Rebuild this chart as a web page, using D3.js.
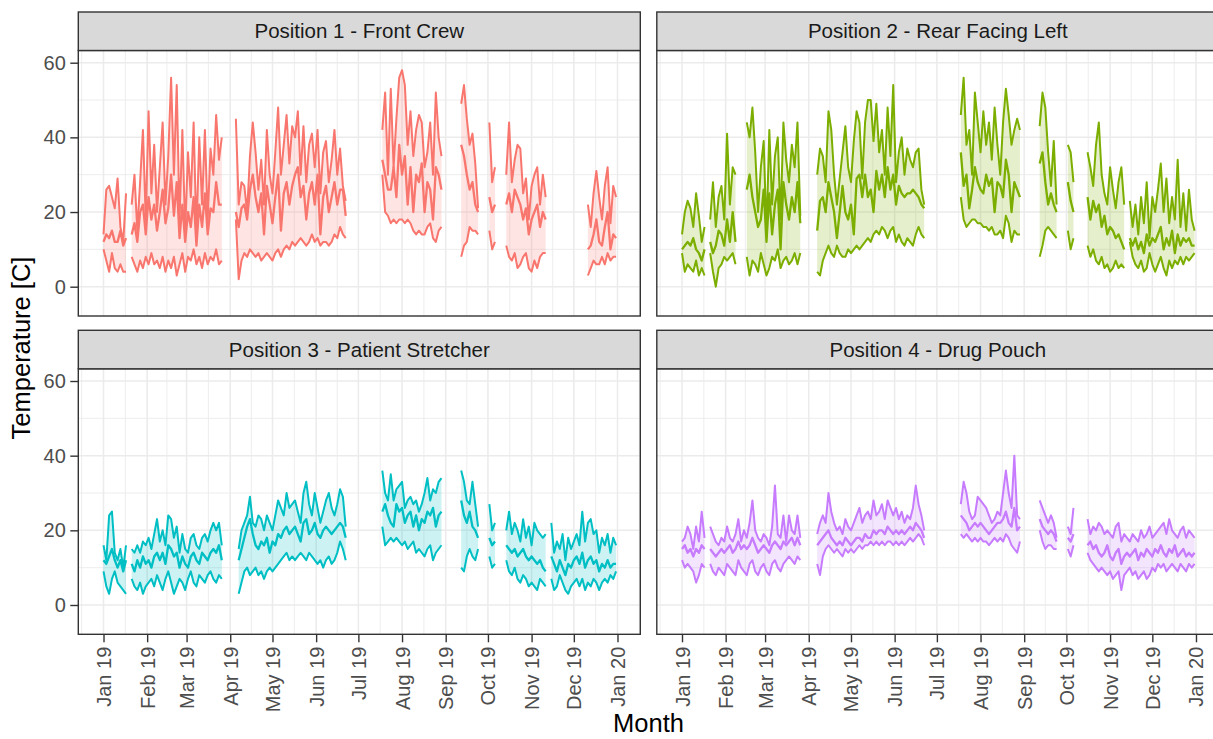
<!DOCTYPE html>
<html><head><meta charset="utf-8">
<script src="https://cdn.jsdelivr.net/npm/d3@7"></script>
<style>body{margin:0;background:#fff;overflow:hidden}svg{display:block}</style>
</head><body><svg id="chart" width="1213" height="739"></svg>
<script>
// ---------- DATA ----------
const panelTitles = ["Position 1 - Front Crew", "Position 2 - Rear Facing Left", "Position 3 - Patient Stretcher", "Position 4 - Drug Pouch"];
const panelColors = ["#F8766D", "#7CAE00", "#00BFC4", "#C77CFF"];
const monthTicks = ["2019-01-01","2019-02-01","2019-03-01","2019-04-01","2019-05-01","2019-06-01","2019-07-01","2019-08-01","2019-09-01","2019-10-01","2019-11-01","2019-12-01","2020-01-01"];
const monthLabels = ["Jan 19","Feb 19","Mar 19","Apr 19","May 19","Jun 19","Jul 19","Aug 19","Sep 19","Oct 19","Nov 19","Dec 19","Jan 20"];
const yTicks = [0, 20, 40, 60];
const yMinor = [10, 30, 50];
const stepDays = 2; // readings every 2nd day within each recording run

// Position 1 - Front Crew : run start (day of 2019) and daily max / mean / min
const p1Starts = [0, 20, 94, 198, 254, 274, 286, 344];
const p1Max = [
 [14,26,27,24,21,29,16,12,25],
 [22,30,15,28,42,18,47,25,38,20,32,44,22,35,56,30,54,18,42,15,36,24,44,14,40,22,42,18,37,30,46,34,40],
 [45,22,28,27,20,35,44,36,26,34,22,42,30,25,36,48,30,38,46,33,43,40,47,30,43,28,38,41,32,42,25,36,39,28,34,42,30,37,27,23],
 [42,52,30,53,32,45,56,58,54,38,47,35,42,46,44,32,36,44,30,52,40,35],
 [49,54,45,38,41,33,21],
 [44,28,32],
 [30,44,28,34,38,37,25,29,18,27,30,32,22,30,24],
 [22,16,25,31,24,18,27,32,17,27,24]];
const p1Mean = [
 [12,14,13,15,12,12,15,11,13],
 [14,17,12,20,22,14,24,18,22,15,20,26,17,21,30,19,28,13,22,12,20,16,24,11,22,16,25,14,21,20,28,22,22],
 [20,16,21,22,18,26,30,24,20,25,14,27,22,17,24,30,15,25,28,22,27,30,32,24,27,18,25,28,22,30,14,24,27,20,24,28,22,26,26,19],
 [34,30,26,26,32,24,38,30,35,22,32,20,30,28,33,20,28,26,18,32,30,26],
 [38,35,30,26,28,22,20],
 [24,20,22],
 [22,25,20,26,24,22,18,21,14,18,20,22,16,20,18],
 [10,11,14,18,12,11,16,20,10,14,13]];
const p1Min = [
 [10,7,4,9,5,4,6,4,4],
 [8,6,4,7,5,8,6,9,6,7,5,8,4,7,5,8,3,6,9,4,8,7,10,6,8,5,9,6,8,7,10,6,7],
 [18,2,7,9,8,10,9,8,9,7,8,9,8,7,9,10,8,10,11,10,12,11,12,13,12,11,12,14,12,13,11,12,12,11,12,14,13,16,14,13],
 [30,20,19,17,18,17,18,18,17,18,17,15,14,15,14,14,16,17,13,12,15,16],
 [8,11,12,16,15,15,14],
 [15,10,12],
 [11,8,7,9,5,6,8,9,5,4,7,5,8,9,9],
 [3,5,7,6,6,8,6,9,7,8,8]];

// Position 2 - Rear Facing Left
const p2Starts = [0, 20, 46, 96, 198, 254, 274, 288, 318];
const p2Max = [
 [14,20,23,21,16,25,19,12,16],
 [18,28,16,24,27,18,41,22,32,30],
 [44,40,48,36,20,32,39,14,42,22,35,40,18,44,34,28,38,32,44,19],
 [30,37,35,28,47,42,30,22,29,36,43,32,28,39,47,44,29,44,50,50,39,49,36,42,30,48,35,54,28,36,40,30,37,34,32,36,37,26,22],
 [46,56,38,42,30,52,44,36,47,38,44,34,48,38,30,44,53,46,38,42,45,42],
 [43,52,48,36,27,39,22],
 [38,36,28],
 [36,32,27,38,44,30,25,22,32,26,21,28,32,22],
 [23,16,22,14,24,17,28,13,24,20,26,33,20,29,17,24,18,34,16,25,15,26,18,15]];
const p2Mean = [
 [10,11,12,11,13,10,9,7,10],
 [12,9,11,15,14,11,18,12,20,12],
 [26,30,24,20,16,18,26,12,25,14,22,26,10,28,22,18,24,20,28,17],
 [15,23,24,20,28,24,20,13,20,27,20,18,22,14,29,30,24,30,24,26,20,31,26,30,24,32,26,30,22,27,25,24,25,25,26,25,24,22,21],
 [36,27,30,21,26,32,28,26,25,30,27,29,20,28,27,24,34,30,20,28,26,24],
 [33,36,28,22,25,22,20],
 [28,23,20],
 [24,18,23,20,22,16,19,14,16,15,13,14,12,10],
 [13,11,13,10,12,9,14,11,13,12,14,16,10,13,11,15,9,14,11,13,12,13,11,11]];
const p2Min = [
 [9,4,6,5,4,7,3,5,3],
 [9,4,0,5,6,8,7,8,9,6],
 [8,3,7,6,4,9,6,3,5,8,7,10,5,7,8,6,7,9,6,9],
 [4,3,7,9,11,9,8,11,9,8,8,10,9,10,11,10,11,12,13,12,14,15,14,16,15,13,15,16,12,14,12,11,13,12,11,14,16,14,13],
 [24,18,16,17,18,18,17,17,16,16,15,16,14,14,15,13,19,17,12,15,14,14],
 [8,11,15,16,15,14,13],
 [15,10,13],
 [11,8,10,7,6,8,5,6,4,5,7,5,6,5],
 [12,8,6,5,7,4,5,9,6,4,6,8,5,3,7,5,7,6,8,6,8,7,8,9]];

// Position 3 - Patient Stretcher
const p3Starts = [0, 20, 96, 198, 254, 274, 286, 318];
const p3Max = [
 [16,12,24,25,14,12,15,10,16],
 [15,14,16,14,17,16,18,15,19,23,17,20,16,24,23,18,21,14,19,15,14,18,19,16,15,18,19,17,20,22,20,22,16],
 [15,20,22,24,29,22,21,24,23,20,24,22,20,24,28,26,24,30,26,27,28,25,22,30,33,27,24,30,26,22,25,28,30,26,24,27,31,29,21],
 [36,30,28,35,28,31,32,33,26,28,29,27,28,25,27,30,34,28,31,30,33,34],
 [36,33,28,27,33,27,21],
 [27,20,22],
 [20,25,19,22,20,17,23,18,21,16,22,20,19,18,19],
 [22,14,17,15,19,12,18,15,17,19,16,25,17,22,23,19,20,14,18,16,19,14,18,16]];
const p3Mean = [
 [12,11,13,15,12,10,12,9,12],
 [11,9,12,10,13,11,12,10,13,14,12,14,11,16,15,13,14,10,13,11,10,13,14,12,11,14,13,12,14,15,14,16,12],
 [12,15,18,21,23,19,16,15,17,16,18,14,17,16,19,18,20,21,19,20,21,19,17,22,23,19,20,22,19,18,20,21,20,19,20,21,22,21,18],
 [25,27,24,22,21,27,25,26,22,24,25,21,24,20,23,22,25,24,26,21,24,25],
 [28,24,22,25,21,20,18],
 [18,16,17],
 [16,15,14,15,13,14,15,13,12,13,12,11,12,10,9],
 [13,11,9,12,10,8,11,10,12,13,11,14,10,12,13,11,12,9,11,10,12,10,11,11]];
const p3Min = [
 [9,5,3,7,9,6,5,4,3],
 [7,5,4,6,3,5,6,7,5,8,6,4,7,9,6,3,5,7,6,4,7,9,6,5,8,7,6,8,9,7,6,8,7],
 [3,6,9,10,8,9,10,8,9,7,9,10,9,10,11,12,13,14,12,13,12,13,14,13,12,14,13,12,11,12,10,12,13,11,12,14,17,15,12],
 [21,16,17,18,17,18,17,16,17,15,16,17,14,15,14,13,15,16,12,14,15,16],
 [10,9,13,15,13,12,15],
 [13,10,11],
 [12,9,8,10,7,6,8,7,5,6,5,4,7,6,5],
 [7,4,5,8,6,4,3,5,6,7,5,7,4,6,5,7,6,4,6,7,6,8,7,9]];

// Position 4 - Drug Pouch
const p4Starts = [0, 20, 96, 198, 254, 274, 288];
const p4Max = [
 [17,18,21,19,15,21,17,25,18],
 [21,19,17,16,18,17,21,18,17,19,23,17,20,18,22,28,20,18,17,19,18,16,21,32,19,18,24,17,24,20,19,24,18],
 [19,22,24,22,30,25,22,20,21,19,23,21,20,22,24,26,22,24,25,23,28,24,25,27,23,28,26,24,26,23,25,22,24,23,26,32,27,24,20],
 [27,33,30,25,23,24,29,28,27,26,24,22,23,25,24,30,36,30,26,40,24,23],
 [28,26,24,22,24,22,18],
 [21,19,26],
 [23,19,21,20,22,21,19,20,19,18,21,22,17,19,18,17,19,18,17,20,18,19,21,18,19,20,21,22,19,23,20,19,18,20,21,18,20,19,18]];
const p4Mean = [
 [15,16,14,15,13,15,14,16,15],
 [15,14,13,14,15,14,15,16,14,15,17,15,16,15,16,18,16,14,15,16,15,14,16,17,16,15,17,16,17,18,16,18,16],
 [16,17,18,19,20,18,17,16,17,16,18,17,16,17,18,18,17,19,18,18,20,19,20,20,19,21,20,19,20,19,20,19,20,21,20,22,21,20,18],
 [24,23,22,20,21,22,21,22,21,20,19,20,21,22,22,23,25,22,21,26,20,21],
 [23,21,20,19,20,19,17],
 [18,17,19],
 [16,17,15,16,14,13,14,16,13,12,14,15,11,13,14,13,14,15,12,14,13,15,14,13,15,14,16,14,13,15,14,16,13,14,15,13,14,13,14]];
const p4Min = [
 [12,10,11,10,9,6,8,11,10],
 [11,9,8,10,9,8,11,10,9,8,12,10,9,8,11,12,9,8,10,11,9,8,11,12,10,9,11,12,13,12,11,13,12],
 [11,8,13,15,16,15,14,15,14,13,15,14,15,14,15,16,15,16,16,17,16,17,16,17,16,17,17,16,17,16,17,16,17,18,17,18,19,18,16],
 [19,18,19,18,17,18,17,18,17,17,16,17,18,17,18,17,19,18,16,15,14,17],
 [20,17,15,16,16,15,15],
 [15,13,16],
 [14,12,11,10,9,10,9,8,9,7,8,9,4,8,9,10,8,9,7,8,9,7,8,10,9,11,10,11,9,10,11,10,9,11,10,9,11,10,11]];

// ---------- BUILD ----------
const DAY = 86400000;
const t0 = Date.UTC(2019, 0, 1);
const sets = [
  {starts: p1Starts, max: p1Max, mean: p1Mean, min: p1Min},
  {starts: p2Starts, max: p2Max, mean: p2Mean, min: p2Min},
  {starts: p3Starts, max: p3Max, mean: p3Mean, min: p3Min},
  {starts: p4Starts, max: p4Max, mean: p4Mean, min: p4Min}
];
function runs(s) {
  return s.starts.map((st, r) => s.max[r].map((mx, i) => ({
    date: new Date(t0 + (st + stepDays * i) * DAY), max: mx, mean: s.mean[r][i], min: s.min[r][i]
  })));
}

const svg = d3.select("#chart");
const FONT = "'Liberation Sans', Arial, Helvetica, sans-serif";
const PW = 562, PH = 265.5, SH = 38.5;
const colX = [78.3, 656.8], rowY = [50.5, 368.8];

const x = d3.scaleUtc()
  .domain([new Date(t0 - 17.9 * DAY), new Date(t0 + 381.2 * DAY)])
  .range([0, PW]);
const y = d3.scaleLinear().domain([-7.85, 63.27]).range([PH, 0]);

const majorDates = monthTicks.map(s => new Date(s + "T00:00:00Z"));
const ext = [new Date(Date.UTC(2018, 11, 1)), ...majorDates, new Date(Date.UTC(2020, 1, 1))];
const minorDates = d3.pairs(ext).map(([a, b]) => new Date((+a + +b) / 2));

const GRID = "#EBEBEB", DARK = "#333333";

svg.append("defs").append("clipPath").attr("id", "pclip")
  .append("rect").attr("width", PW).attr("height", PH);

sets.forEach((s, k) => {
  const col = k % 2, row = Math.floor(k / 2);
  const g = svg.append("g").attr("transform", `translate(${colX[col]},${rowY[row]})`);
  const color = panelColors[k];

  // background + grid
  g.append("rect").attr("width", PW).attr("height", PH).attr("fill", "#fff");
  const grid = g.append("g").attr("clip-path", "url(#pclip)");
  grid.selectAll(".vmin").data(minorDates).join("line")
    .attr("x1", d => x(d)).attr("x2", d => x(d)).attr("y1", 0).attr("y2", PH)
    .attr("stroke", GRID).attr("stroke-width", 0.9);
  grid.selectAll(".hmin").data(yMinor).join("line")
    .attr("x1", 0).attr("x2", PW).attr("y1", d => y(d)).attr("y2", d => y(d))
    .attr("stroke", GRID).attr("stroke-width", 0.9);
  grid.selectAll(".vmaj").data(majorDates).join("line")
    .attr("x1", d => x(d)).attr("x2", d => x(d)).attr("y1", 0).attr("y2", PH)
    .attr("stroke", GRID).attr("stroke-width", 1.5);
  grid.selectAll(".hmaj").data(yTicks).join("line")
    .attr("x1", 0).attr("x2", PW).attr("y1", d => y(d)).attr("y2", d => y(d))
    .attr("stroke", GRID).attr("stroke-width", 1.5);

  // data
  const dg = g.append("g").attr("clip-path", "url(#pclip)");
  const area = d3.area().x(d => x(d.date)).y0(d => y(d.min)).y1(d => y(d.max));
  const rr = runs(s);
  dg.selectAll(".band").data(rr).join("path")
    .attr("d", area).attr("fill", color).attr("fill-opacity", 0.2).attr("stroke", "none");
  ["max", "mean", "min"].forEach(key => {
    const line = d3.line().x(d => x(d.date)).y(d => y(d[key]));
    dg.selectAll(".l" + key).data(rr).join("path")
      .attr("d", line).attr("fill", "none").attr("stroke", color)
      .attr("stroke-width", key === "mean" ? 2.3 : 2.0).attr("stroke-linejoin", "round");
  });

  // panel border
  g.append("rect").attr("width", PW).attr("height", PH)
    .attr("fill", "none").attr("stroke", DARK).attr("stroke-width", 1.4);

  // strip
  const sg = svg.append("g").attr("transform", `translate(${colX[col]},${rowY[row] - SH})`);
  sg.append("rect").attr("width", PW).attr("height", SH)
    .attr("fill", "#D9D9D9").attr("stroke", DARK).attr("stroke-width", 1.4);
  sg.append("text").attr("x", PW / 2).attr("y", SH / 2).attr("dy", "0.35em")
    .attr("text-anchor", "middle").attr("font-family", FONT).attr("font-size", 20.5)
    .attr("fill", "#1A1A1A").text(panelTitles[k]);

  // y axis (left column only)
  if (col === 0) {
    const ya = g.append("g").call(d3.axisLeft(y).tickValues(yTicks).tickSize(8).tickPadding(4.5));
    ya.select(".domain").remove();
    ya.selectAll(".tick line").attr("stroke", DARK).attr("stroke-width", 1.4);
    ya.selectAll(".tick text").attr("font-family", FONT).attr("font-size", 20)
      .attr("fill", "#4D4D4D");
  }
  // x axis (bottom row only)
  if (row === 1) {
    const xa = g.append("g").attr("transform", `translate(0,${PH})`)
      .call(d3.axisBottom(x).tickValues(majorDates).tickFormat((d, i) => monthLabels[i]).tickSize(8));
    xa.select(".domain").remove();
    xa.selectAll(".tick line").attr("stroke", DARK).attr("stroke-width", 1.4);
    xa.selectAll(".tick text").attr("font-family", FONT).attr("font-size", 20)
      .attr("fill", "#4D4D4D").attr("transform", "rotate(-90)")
      .attr("x", -12.4).attr("y", 0).attr("dy", "0.35em").attr("text-anchor", "end");
  }
});

// axis titles
svg.append("text").attr("transform", "translate(30,348) rotate(-90)")
  .attr("text-anchor", "middle").attr("font-family", FONT).attr("font-size", 25.5)
  .attr("fill", "#000").text("Temperature [C]");
svg.append("text").attr("x", colX[0] + (colX[1] + PW - colX[0]) / 2).attr("y", 732)
  .attr("text-anchor", "middle").attr("font-family", FONT).attr("font-size", 25.5)
  .attr("fill", "#000").text("Month");
</script></body></html>
